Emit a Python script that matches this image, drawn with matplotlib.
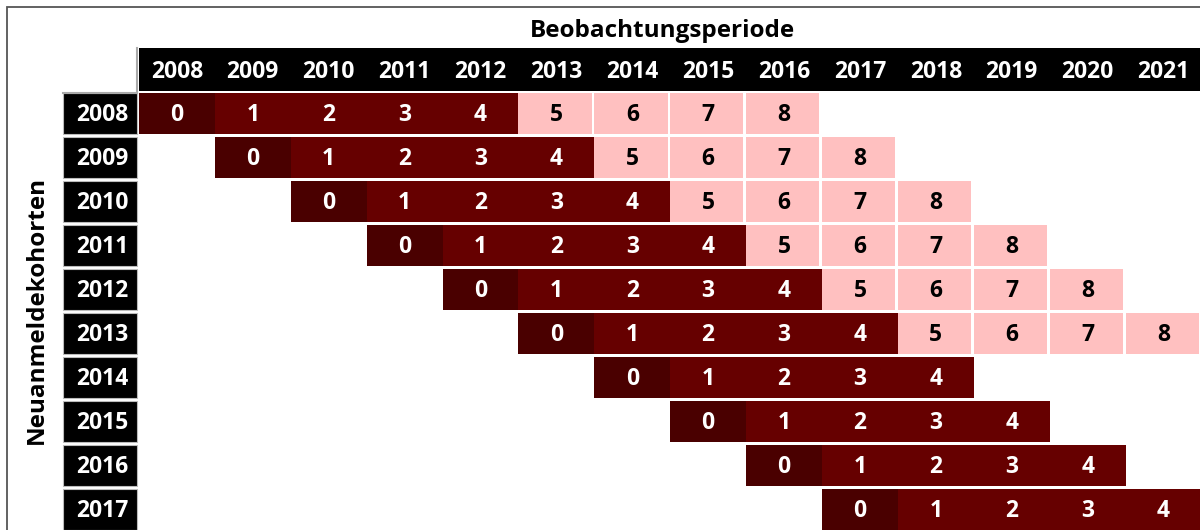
import matplotlib
matplotlib.use("Agg")
import matplotlib.pyplot as plt
from matplotlib.patches import Rectangle

plt.rcParams['font.family'] = ['Open Sans', 'DejaVu Sans']

# Data
perioden = [2008, 2009, 2010, 2011, 2012, 2013, 2014, 2015, 2016, 2017, 2018, 2019, 2020, 2021]
kohorten = [2008, 2009, 2010, 2011, 2012, 2013, 2014, 2015, 2016, 2017]
werte = [
    [0, 1, 2, 3, 4, 5, 6, 7, 8],
    [0, 1, 2, 3, 4, 5, 6, 7, 8],
    [0, 1, 2, 3, 4, 5, 6, 7, 8],
    [0, 1, 2, 3, 4, 5, 6, 7, 8],
    [0, 1, 2, 3, 4, 5, 6, 7, 8],
    [0, 1, 2, 3, 4, 5, 6, 7, 8],
    [0, 1, 2, 3, 4],
    [0, 1, 2, 3, 4],
    [0, 1, 2, 3, 4],
    [0, 1, 2, 3, 4],
]

c_null = '#4a0000'
c_dunkel = '#660000'
c_hell = '#ffc0c0'

fig = plt.figure(figsize=(12, 5.3), dpi=100)
ax = fig.add_axes([0, 0, 1, 1])
# 1 x unit = one column (~76 px), 1 y unit = one row (~44 px)
ax.set_xlim(2005.67, 2021.48)
ax.set_ylim(9.466, -2.58)
ax.axis('off')

fs = 16.5
row_h = 0.93

# header bar
ax.barh(-1, perioden[-1] - perioden[0] + 1.5, left=perioden[0] - 0.5, height=0.98,
        color='black')
for p in perioden:
    ax.text(p, -0.95, str(p), ha='center', va='center', color='white',
            fontsize=fs, fontweight='bold')

# row labels
for i, k in enumerate(kohorten):
    ax.barh(i, 0.975, left=perioden[0] - 1.5, height=row_h, color='black',
            edgecolor='#bbbbbb', linewidth=0.8)
    ax.text(perioden[0] - 0.98, i + 0.03, str(k), ha='center', va='center', color='white',
            fontsize=fs, fontweight='bold')

# cells
for i, k in enumerate(kohorten):
    for j, v in enumerate(werte[i]):
        x = k + j
        if v == 0:
            col, w, tc = c_null, 1.0, 'white'
        elif v <= 4:
            col, w, tc = c_dunkel, 1.0, 'white'
        else:
            col, w, tc = c_hell, 0.965, 'black'
        ax.barh(i, w, left=x - 0.5, height=row_h, color=col)
        ax.text(x, i + 0.03, str(v), ha='center', va='center', color=tc,
                fontsize=fs, fontweight='bold')

# thin grey edges of the empty top-left corner
ax.plot([perioden[0] - 1.5, perioden[0] - 0.53], [-0.47, -0.47], color='#aaaaaa', lw=1.5)
ax.plot([perioden[0] - 0.53, perioden[0] - 0.53], [-0.47, -1.49], color='#aaaaaa', lw=1.5)

ax.text(2014.4, -1.87, 'Beobachtungsperiode', ha='center', va='center',
        fontsize=17.5, fontweight='bold', color='black')
fig.text(37 / 1200, 1 - 310 / 530, 'Neuanmeldekohorten', rotation=90,
         ha='center', va='center', fontsize=17.5, fontweight='bold')

# outer frame
fig.patches.append(Rectangle((7 / 1200, -0.1), 1.2, 1.1 - 7 / 530,
                             transform=fig.transFigure, fill=False,
                             edgecolor='#555555', linewidth=1.3))

fig.savefig('out.png', dpi=100)
